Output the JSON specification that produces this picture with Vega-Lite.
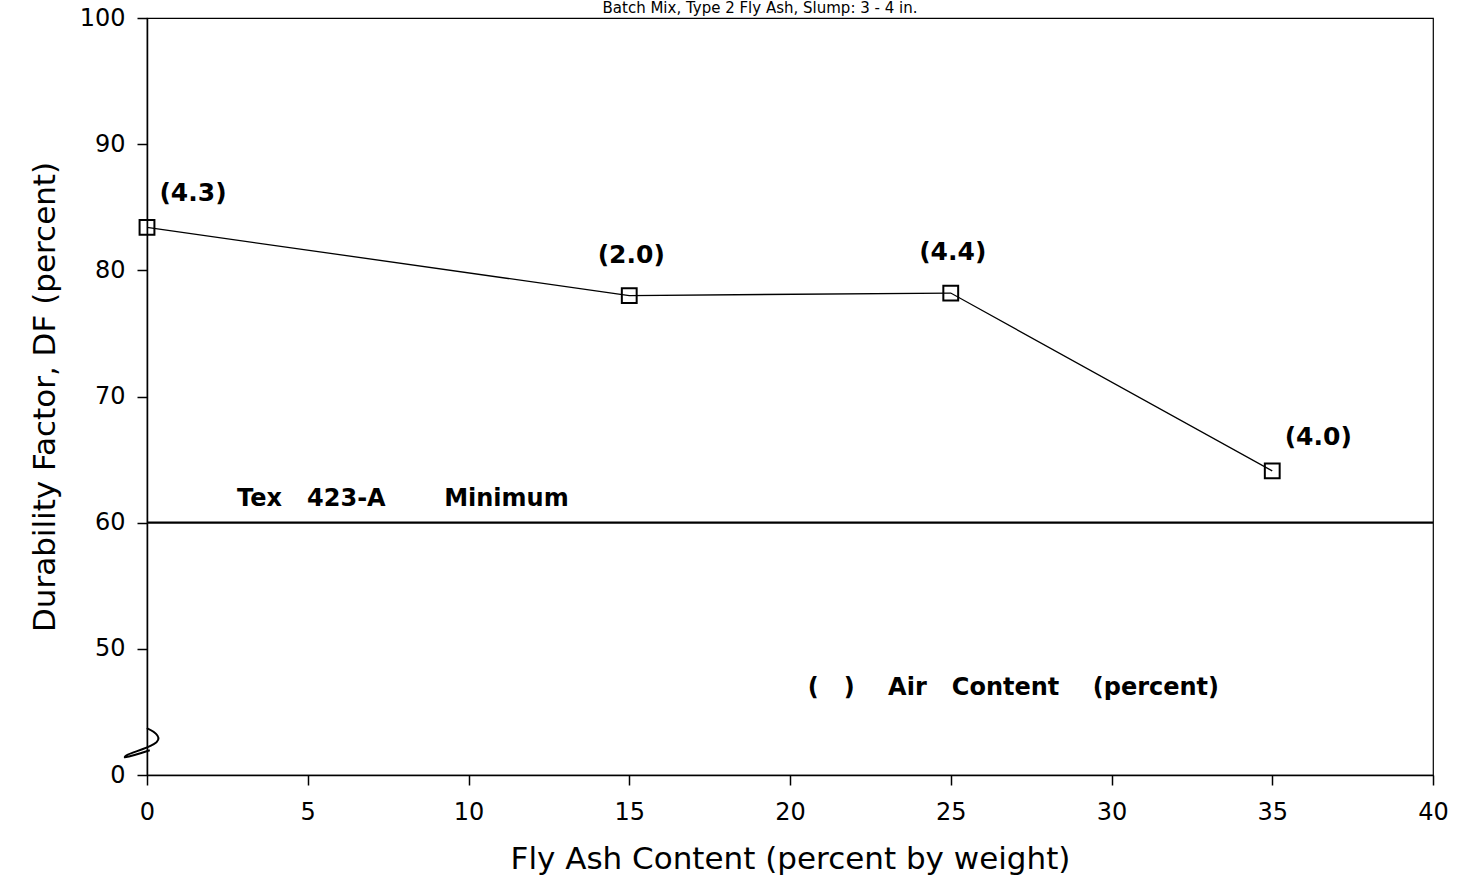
{
  "$schema": "https://vega.github.io/schema/vega-lite/v6.json",
  "autosize": "none",
  "width": 1286,
  "height": 757,
  "padding": {"left": 147, "top": 18, "right": 26, "bottom": 107},
  "background": "white",
  "title": {
    "text": "Batch Mix, Type 2 Fly Ash, Slump: 3 - 4 in.",
    "fontSize": 15,
    "font": "DejaVu Sans",
    "fontWeight": "normal",
    "color": "black",
    "anchor": "middle",
    "baseline": "alphabetic",
    "offset": 0,
    "dy": 22,
    "dx": -30
  },
  "config": {
    "view": {"stroke": "black", "strokeWidth": 1.2},
    "axis": {
      "domainColor": "black",
      "domainWidth": 1.5,
      "tickColor": "black",
      "tickWidth": 1.5,
      "tickSize": 10,
      "labelColor": "black",
      "titleColor": "black",
      "labelFont": "DejaVu Sans",
      "titleFont": "DejaVu Sans",
      "labelFontSize": 24,
      "titleFontSize": 31,
      "titleFontWeight": "normal",
      "labelFlush": false,
      "grid": false
    }
  },
  "data": {
    "values": [
      {"fly_ash": 0, "df": 83.4, "air": "(4.3)"},
      {"fly_ash": 15, "df": 78.0, "air": "(2.0)"},
      {"fly_ash": 25, "df": 78.2, "air": "(4.4)"},
      {"fly_ash": 35, "df": 64.1, "air": "(4.0)"}
    ]
  },
  "layer": [
    {
      "mark": {"type": "line", "color": "black", "strokeWidth": 1.3},
      "encoding": {
        "x": {
          "field": "fly_ash",
          "type": "quantitative",
          "scale": {"domain": [0, 40], "nice": false},
          "axis": {
            "values": [0, 5, 10, 15, 20, 25, 30, 35, 40],
            "title": "Fly Ash Content (percent by weight)",
            "labelPadding": 15,
            "titlePadding": 20,
            "titleFontSize": 31
          }
        },
        "y": {
          "field": "df",
          "type": "quantitative",
          "scale": {"domain": [40, 100], "nice": false, "zero": false},
          "axis": {
            "values": [40, 50, 60, 70, 80, 90, 100],
            "labelExpr": "datum.value == 40 ? '0' : datum.label",
            "title": "Durability Factor, DF (percent)",
            "labelPadding": 12,
            "titlePadding": 18
          }
        }
      }
    },
    {
      "mark": {"type": "point", "shape": "square", "size": 220, "filled": false, "stroke": "black", "strokeWidth": 2, "opacity": 1},
      "encoding": {
        "x": {"field": "fly_ash", "type": "quantitative"},
        "y": {"field": "df", "type": "quantitative"}
      }
    },
    {
      "transform": [{"filter": "datum.fly_ash == 15 || datum.fly_ash == 25"}],
      "mark": {"type": "text", "font": "DejaVu Sans", "fontSize": 25, "fontWeight": "bold", "color": "black", "dx": 2, "dy": -41},
      "encoding": {
        "x": {"field": "fly_ash", "type": "quantitative"},
        "y": {"field": "df", "type": "quantitative"},
        "text": {"field": "air"}
      }
    },
    {
      "transform": [{"filter": "datum.fly_ash == 0 || datum.fly_ash == 35"}],
      "mark": {"type": "text", "font": "DejaVu Sans", "fontSize": 25, "fontWeight": "bold", "color": "black", "dx": 46, "dy": -34},
      "encoding": {
        "x": {"field": "fly_ash", "type": "quantitative"},
        "y": {"field": "df", "type": "quantitative"},
        "text": {"field": "air"}
      }
    },
    {
      "data": {"values": [{"minimum": 60}]},
      "mark": {"type": "rule", "color": "black", "strokeWidth": 2.2},
      "encoding": {"y": {"field": "minimum", "type": "quantitative"}}
    },
    {
      "data": {"values": [{"x": 2.8, "y": 61.9, "label": "Tex\u00a0\u00a0\u00a0423-A\u00a0\u00a0\u00a0\u00a0\u00a0\u00a0\u00a0Minimum"}]},
      "mark": {"type": "text", "align": "left", "font": "DejaVu Sans", "fontSize": 24, "fontWeight": "bold", "color": "black"},
      "encoding": {
        "x": {"field": "x", "type": "quantitative"},
        "y": {"field": "y", "type": "quantitative"},
        "text": {"field": "label"}
      }
    },
    {
      "data": {"values": [{"x": 20.55, "y": 46.9, "label": "(\u00a0\u00a0\u00a0)\u00a0\u00a0\u00a0\u00a0Air\u00a0\u00a0\u00a0Content\u00a0\u00a0\u00a0\u00a0(percent)"}]},
      "mark": {"type": "text", "align": "left", "font": "DejaVu Sans", "fontSize": 24, "fontWeight": "bold", "color": "black"},
      "encoding": {
        "x": {"field": "x", "type": "quantitative"},
        "y": {"field": "y", "type": "quantitative"},
        "text": {"field": "label"}
      }
    },
    {
      "data": {"values": [{"x": -0.1, "y": 42.6}]},
      "mark": {
        "type": "point",
        "shape": "M0.15,-0.7 C0.6,-0.5 1.0,-0.2 0.5,0.1 C0,0.4 -1,0.6 -0.95,0.75 C-0.6,0.7 0,0.5 0.3,0.4",
        "size": 1600,
        "filled": false,
        "stroke": "black",
        "strokeWidth": 2,
        "opacity": 1,
        "clip": false
      },
      "encoding": {
        "x": {"field": "x", "type": "quantitative"},
        "y": {"field": "y", "type": "quantitative"}
      }
    }
  ]
}
